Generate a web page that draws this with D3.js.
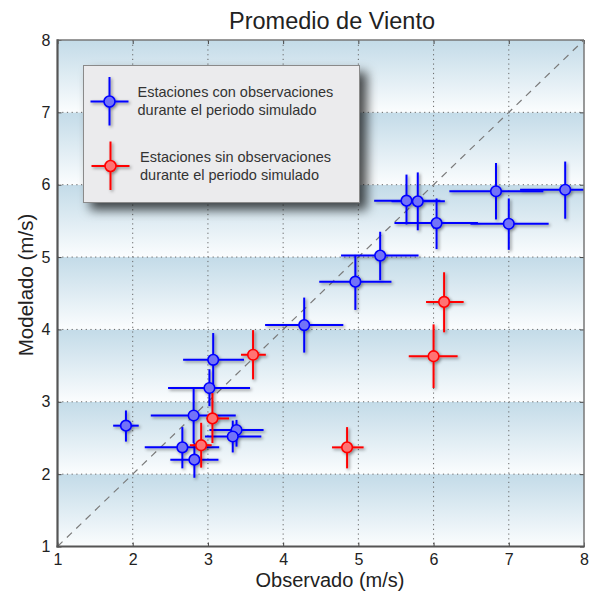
<!DOCTYPE html>
<html><head><meta charset="utf-8">
<script src="https://cdn.jsdelivr.net/npm/d3@7/dist/d3.min.js"></script>
<style>
html,body{margin:0;padding:0;background:#fff;}
text{font-family:"Liberation Sans",Arial,Helvetica,sans-serif;}
</style></head>
<body><svg id="c" width="593" height="594"></svg>
<script>
// ---- data ----
const ticks = [1,2,3,4,5,6,7,8];
// stations with observations (blue)
const blueObs   = [1.91, 3.07, 3.02, 2.81, 3.38, 3.33, 2.66, 2.82, 5.64, 5.79, 6.04, 7.00, 6.83, 7.75, 5.29, 4.96, 4.28];
const blueMod   = [2.67, 3.58, 3.19, 2.81, 2.61, 2.52, 2.37, 2.20, 5.78, 5.77, 5.47, 5.46, 5.91, 5.93, 5.02, 4.66, 4.06];
const blueObsLo = [1.74, 2.67, 2.47, 2.24, 3.02, 2.96, 2.16, 2.50, 5.21, 5.44, 5.48, 6.49, 6.21, 7.15, 4.77, 4.48, 3.76];
const blueObsHi = [2.08, 3.48, 3.56, 3.37, 3.74, 3.71, 3.15, 3.14, 6.09, 6.15, 6.59, 7.53, 7.46, 8.35, 5.80, 5.44, 4.80];
const blueModLo = [2.45, 3.22, 2.94, 2.43, 2.38, 2.30, 2.08, 1.95, 5.45, 5.37, 5.11, 5.10, 5.52, 5.53, 4.68, 4.27, 3.68];
const blueModHi = [2.88, 3.95, 3.45, 3.19, 2.75, 2.74, 2.65, 2.43, 6.14, 6.17, 5.81, 5.81, 6.30, 6.32, 5.35, 5.03, 4.44];
// stations without observations (red)
const redObs    = [3.60, 3.06, 2.91, 6.14, 6.00, 4.85];
const redMod    = [3.65, 2.77, 2.40, 4.38, 3.63, 2.37];
const redObsLo  = [3.44, 2.98, 2.76, 5.90, 5.67, 4.65];
const redObsHi  = [3.77, 3.28, 3.05, 6.40, 6.32, 5.07];
const redModLo  = [3.31, 2.43, 2.09, 3.96, 3.19, 2.08];
const redModHi  = [3.99, 3.12, 2.71, 4.79, 4.07, 2.65];
const legendLabels = [["Estaciones con observaciones","durante el periodo simulado"],
                      ["Estaciones sin observaciones","durante el periodo simulado"]];

const svg = d3.select("#c");
const L=57.5, R=584, T=40, B=546.5;
const x = d3.scaleLinear().domain([1,8]).range([L,R]);
const y = d3.scaleLinear().domain([1,8]).range([B,T]);

const defs = svg.append("defs");
const g = defs.append("linearGradient").attr("id","band").attr("x1",0).attr("y1",0).attr("x2",0).attr("y2",1);
g.append("stop").attr("offset","0%").attr("stop-color","#c3dbe8");
g.append("stop").attr("offset","100%").attr("stop-color","#fbfdfe");
const ds = defs.append("filter").attr("id","sh").attr("x","-20%").attr("y","-20%").attr("width","150%").attr("height","150%");
ds.append("feDropShadow").attr("dx",1.5).attr("dy",1.5).attr("stdDeviation",1.5).attr("flood-color","#000").attr("flood-opacity",0.45);
const ls = defs.append("filter").attr("id","lsh").attr("x","-20%").attr("y","-20%").attr("width","150%").attr("height","150%");
ls.append("feDropShadow").attr("dx",7).attr("dy",7).attr("stdDeviation",5.5).attr("flood-color","#000").attr("flood-opacity",0.7);
defs.append("clipPath").attr("id","clip").append("rect").attr("x",L).attr("y",T).attr("width",R-L).attr("height",B-T);

// bands
svg.append("g").selectAll("rect").data(ticks.slice(0,-1)).join("rect")
  .attr("x",L).attr("width",R-L)
  .attr("y",d=>y(d+1)).attr("height",d=>y(d)-y(d+1))
  .attr("fill","url(#band)");

// grid
const grid = svg.append("g").attr("stroke","#666").attr("stroke-width",1).attr("stroke-dasharray","1.2,3.5");
grid.selectAll(".vx").data(ticks.slice(1,-1)).join("line")
  .attr("x1",d=>x(d)).attr("x2",d=>x(d)).attr("y1",T).attr("y2",B);
grid.selectAll(".hy").data(ticks.slice(1,-1)).join("line")
  .attr("y1",d=>y(d)).attr("y2",d=>y(d)).attr("x1",L).attr("x2",R);

// diagonal
svg.append("line").attr("x1",x(1)).attr("y1",y(1)).attr("x2",x(8)).attr("y2",y(8))
  .attr("stroke","#7a7a7a").attr("stroke-width",1.2).attr("stroke-dasharray","7,6");

// data
function drawSeries(obs,mod,oLo,oHi,mLo,mHi,line,fill){
  const gg = svg.append("g").attr("clip-path","url(#clip)").append("g").attr("filter","url(#sh)");
  const idx = d3.range(obs.length);
  gg.selectAll(".h").data(idx).join("line")
    .attr("x1",i=>x(oLo[i])).attr("x2",i=>x(oHi[i])).attr("y1",i=>y(mod[i])).attr("y2",i=>y(mod[i]))
    .attr("stroke",line).attr("stroke-width",2);
  gg.selectAll(".v").data(idx).join("line")
    .attr("x1",i=>x(obs[i])).attr("x2",i=>x(obs[i])).attr("y1",i=>y(mLo[i])).attr("y2",i=>y(mHi[i]))
    .attr("stroke",line).attr("stroke-width",2);
  gg.selectAll("circle").data(idx).join("circle")
    .attr("cx",i=>x(obs[i])).attr("cy",i=>y(mod[i])).attr("r",5.3)
    .attr("fill",fill).attr("stroke",line).attr("stroke-width",1.6);
}
drawSeries(blueObs,blueMod,blueObsLo,blueObsHi,blueModLo,blueModHi,"#0000ff","#7373f7");
drawSeries(redObs,redMod,redObsLo,redObsHi,redModLo,redModHi,"#ff0000","#ff7373");

// axes (ticks inside)
function styleAxis(sel){
  sel.select(".domain").remove();
  sel.selectAll(".tick line").attr("stroke","#444").attr("stroke-width",1);
  sel.selectAll(".tick text").attr("fill","#222").style("font-size","16px").style("font-family","'Liberation Sans',Arial,sans-serif");
}
svg.append("g").attr("transform",`translate(0,${B})`)
  .call(d3.axisBottom(x).tickValues(ticks).tickFormat(d3.format("d")).tickSizeInner(-4).tickSizeOuter(0).tickPadding(7))
  .call(styleAxis);
svg.append("g").attr("transform",`translate(${L},0)`)
  .call(d3.axisLeft(y).tickValues(ticks).tickFormat(d3.format("d")).tickSizeInner(-4).tickSizeOuter(0).tickPadding(7))
  .call(styleAxis);
svg.append("g").attr("transform",`translate(0,${T})`)
  .call(d3.axisTop(x).tickValues(ticks).tickFormat("").tickSizeInner(-4).tickSizeOuter(0))
  .call(styleAxis);
svg.append("g").attr("transform",`translate(${R},0)`)
  .call(d3.axisRight(y).tickValues(ticks).tickFormat("").tickSizeInner(-4).tickSizeOuter(0))
  .call(styleAxis);

// frame
svg.append("line").attr("x1",L).attr("x2",R).attr("y1",T).attr("y2",T).attr("stroke","#777").attr("stroke-width",1.5);
svg.append("line").attr("x1",R).attr("x2",R).attr("y1",T).attr("y2",B).attr("stroke","#777").attr("stroke-width",1.5);
svg.append("line").attr("x1",L).attr("x2",L).attr("y1",T-0.75).attr("y2",B+1).attr("stroke","#555").attr("stroke-width",2.2);
svg.append("line").attr("x1",L-1).attr("x2",R+0.75).attr("y1",B).attr("y2",B).attr("stroke","#555").attr("stroke-width",2.2);

// titles
svg.append("text").attr("x",332).attr("y",29).attr("text-anchor","middle")
  .style("font-size","23.5px").attr("fill","#222").text("Promedio de Viento");
svg.append("text").attr("x",330).attr("y",587).attr("text-anchor","middle")
  .style("font-size","20px").attr("fill","#222").text("Observado (m/s)");
svg.append("text").attr("transform","translate(33,285) rotate(-90)").attr("text-anchor","middle")
  .style("font-size","20.5px").attr("fill","#222").text("Modelado (m/s)");

// legend
const lg = svg.append("g");
lg.append("rect").attr("x",83.5).attr("y",65.5).attr("width",276).attr("height",137)
  .attr("fill","#ebebed").attr("stroke","#8a8a8a").attr("stroke-width",1).attr("filter","url(#lsh)");
const legItems = [
  {cx:109.5, cy:101.5, line:"#0000ff", fill:"#7373f7", tx:137.5, ty:[97,115]},
  {cx:110.5, cy:166, line:"#ff0000", fill:"#ff7373", tx:140, ty:[162,179.5]}
];
legItems.forEach((it,k)=>{
  const gg = lg.append("g").attr("filter","url(#sh)");
  gg.append("line").attr("x1",it.cx-19).attr("x2",it.cx+19).attr("y1",it.cy).attr("y2",it.cy).attr("stroke",it.line).attr("stroke-width",2);
  gg.append("line").attr("x1",it.cx).attr("x2",it.cx).attr("y1",it.cy-24.5).attr("y2",it.cy+24).attr("stroke",it.line).attr("stroke-width",2);
  gg.append("circle").attr("cx",it.cx).attr("cy",it.cy).attr("r",5.5).attr("fill",it.fill).attr("stroke",it.line).attr("stroke-width",1.6);
  legendLabels[k].forEach((t,j)=>{
    lg.append("text").attr("x",it.tx).attr("y",it.ty[j]).style("font-size","14.5px").attr("fill","#333").text(t);
  });
});
</script></body></html>
